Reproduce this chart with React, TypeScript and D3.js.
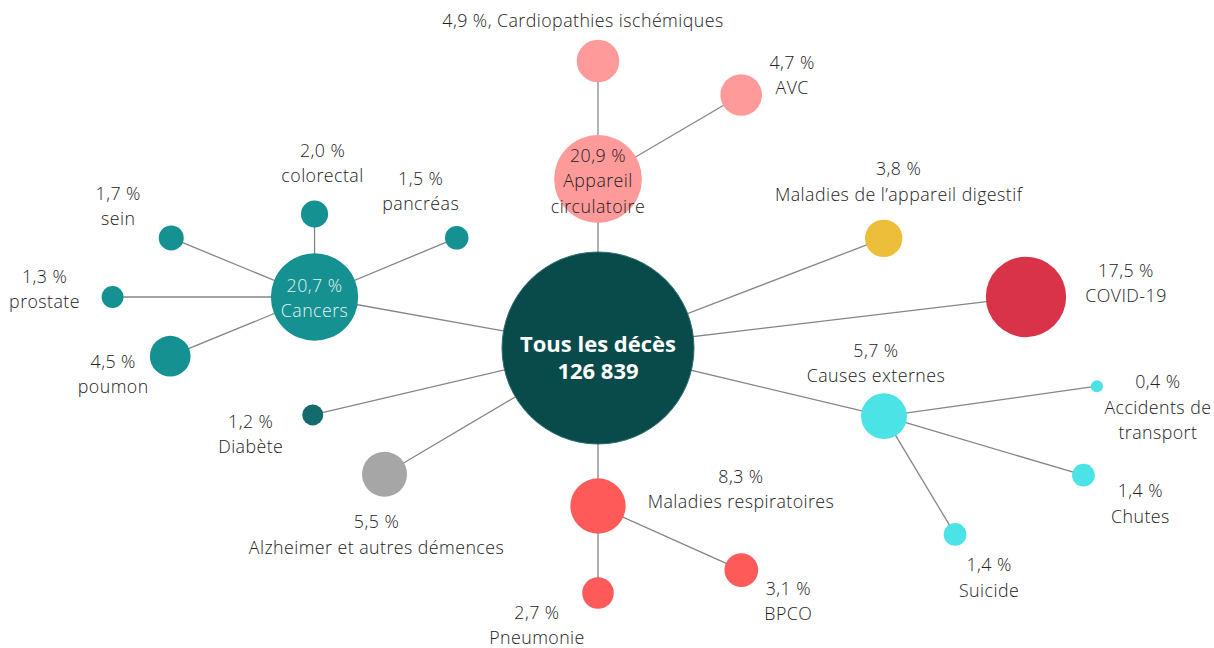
import React, { useEffect, useRef } from 'react';
import * as d3 from 'd3';

// causes of death, share of all deaths (%)
const ids = ['total', 'circ', 'cardio', 'avc', 'cancers', 'colorectal', 'pancreas', 'sein', 'prostate', 'poumon',
  'digest', 'covid', 'externes', 'accidents', 'chutes', 'suicide', 'resp', 'bpco', 'pneumonie', 'alzheimer', 'diabete'];
const parents = ['', 'total', 'circ', 'circ', 'total', 'cancers', 'cancers', 'cancers', 'cancers', 'cancers',
  'total', 'total', 'total', 'externes', 'externes', 'externes', 'total', 'resp', 'resp', 'total', 'total'];
const values = [100, 20.9, 4.9, 4.7, 20.7, 2.0, 1.5, 1.7, 1.3, 4.5, 3.8, 17.5, 5.7, 0.4, 1.4, 1.4, 8.3, 3.1, 2.7, 5.5, 1.2];
const names = [
  ['Tous les décès', '126 839'], ['20,9 %', 'Appareil', 'circulatoire'], ['4,9 %, Cardiopathies ischémiques'],
  ['4,7 %', 'AVC'], ['20,7 %', 'Cancers'], ['2,0 %', 'colorectal'], ['1,5 %', 'pancréas'], ['1,7 %', 'sein'],
  ['1,3 %', 'prostate'], ['4,5 %', 'poumon'], ['3,8 %', 'Maladies de l’appareil digestif'], ['17,5 %', 'COVID-19'],
  ['5,7 %', 'Causes externes'], ['0,4 %', 'Accidents de', 'transport'], ['1,4 %', 'Chutes'], ['1,4 %', 'Suicide'],
  ['8,3 %', 'Maladies respiratoires'], ['3,1 %', 'BPCO'], ['2,7 %', 'Pneumonie'], ['5,5 %', 'Alzheimer et autres démences'],
  ['1,2 %', 'Diabète'],
];
const colors = ['#094a4b', '#ff9a9a', '#ff9a9a', '#ff9a9a', '#159191', '#159191', '#159191', '#159191', '#159191', '#159191',
  '#edbe3a', '#d9334a', '#4be3e6', '#4be3e6', '#4be3e6', '#4be3e6', '#ff5a5a', '#ff5a5a', '#ff5a5a', '#a6a6a6', '#146b6b'];

// layout: angle (deg, 0 = right) and distance from parent, label offset
const angles = [0, -90, -90, -30.4, -169.8, -90, -22.6, -157.6, 180, 157.7, -21, -6.8, 13.4, -8, 16.5, 59, 90, 24.1, 90, 149.4, 166.8];
const dists = [0, 169, 118, 166, 288, 83, 154, 155, 202, 156, 306, 431, 294, 215, 208, 138, 158, 157, 87, 248, 293];
const labelDx = [0, 0, -15, 51, 0, 8, -36, -53, -68, -57, 15, 100, -8, 61, 57, 34, 143, 47, -61, -8, -62];
const labelDy = [-5, -24, -41, -33, -12, -64, -60, -45, -21, 5, -70, -27, -66, -5, 15, 30, -30, 18, 19, 47, 6];

export default function App() {
  const ref = useRef<SVGSVGElement>(null);

  useEffect(() => {
    const width = 1214;
    const height = 648;
    const svg = d3.select(ref.current);
    svg.selectAll('*').remove();

    const r = d3.scaleSqrt().domain([0, 100]).range([0, 96]);
    const cx = 598;
    const cy = 348;

    const nodes: any[] = ids.map((id, i) => ({
      id, parent: parents[i], value: values[i], lines: names[i], color: colors[i], i,
    }));
    const byId = new Map(nodes.map((n) => [n.id, n]));
    nodes.forEach((n) => {
      if (!n.parent) { n.x = cx; n.y = cy; return; }
      const p = byId.get(n.parent);
      const a = (angles[n.i] * Math.PI) / 180;
      n.x = p.x + dists[n.i] * Math.cos(a);
      n.y = p.y + dists[n.i] * Math.sin(a);
    });
    const links = nodes.filter((n) => n.parent).map((n) => ({ source: byId.get(n.parent), target: n }));

    svg.attr('width', width).attr('height', height);

    svg.append('g')
      .selectAll('line')
      .data(links)
      .join('line')
      .attr('x1', (d) => d.source.x)
      .attr('y1', (d) => d.source.y)
      .attr('x2', (d) => d.target.x)
      .attr('y2', (d) => d.target.y)
      .attr('stroke', (d) => (d.target.id === 'cardio' ? '#b3b3b3' : '#858585'))
      .attr('stroke-width', (d) => (d.target.id === 'cardio' ? 2 : 1.3));

    svg.append('g')
      .selectAll('circle')
      .data(nodes)
      .join('circle')
      .attr('cx', (d) => d.x)
      .attr('cy', (d) => d.y)
      .attr('r', (d) => r(d.value))
      .attr('fill', (d) => d.color)
      .attr('stroke', (d) => (d.id === 'total' ? '#2d6f6f' : 'none'))
      .attr('stroke-width', 1);

    const labels = svg.append('g')
      .selectAll('text')
      .data(nodes)
      .join('text')
      .attr('text-anchor', 'middle')
      .attr('font-family', "'Open Sans', sans-serif")
      .attr('font-size', (d) => (d.id === 'total' ? 22 : 17.8))
      .attr('font-weight', (d) => (d.id === 'total' ? 700 : 300))
      .attr('letter-spacing', (d) => (d.id === 'total' ? 0 : 0.45))
      .attr('fill', (d) => (d.id === 'total' ? '#ffffff' : d.id === 'cancers' ? '#e3f3f3' : '#222222'));

    labels.selectAll('tspan')
      .data((d: any) => d.lines.map((t: string, k: number) => ({ t, k, n: d })))
      .join('tspan')
      .attr('x', (d: any) => d.n.x + labelDx[d.n.i])
      .attr('y', (d: any) => d.n.y + labelDy[d.n.i] + d.k * (d.n.id === 'total' ? 27 : 25.3))
      .attr('dominant-baseline', 'central')
      .text((d: any) => d.t);
  }, []);

  return (
    <div>
      <svg ref={ref} style={{ position: 'absolute', left: 0, top: 0, display: 'block' }}></svg>
    </div>
  );
}
